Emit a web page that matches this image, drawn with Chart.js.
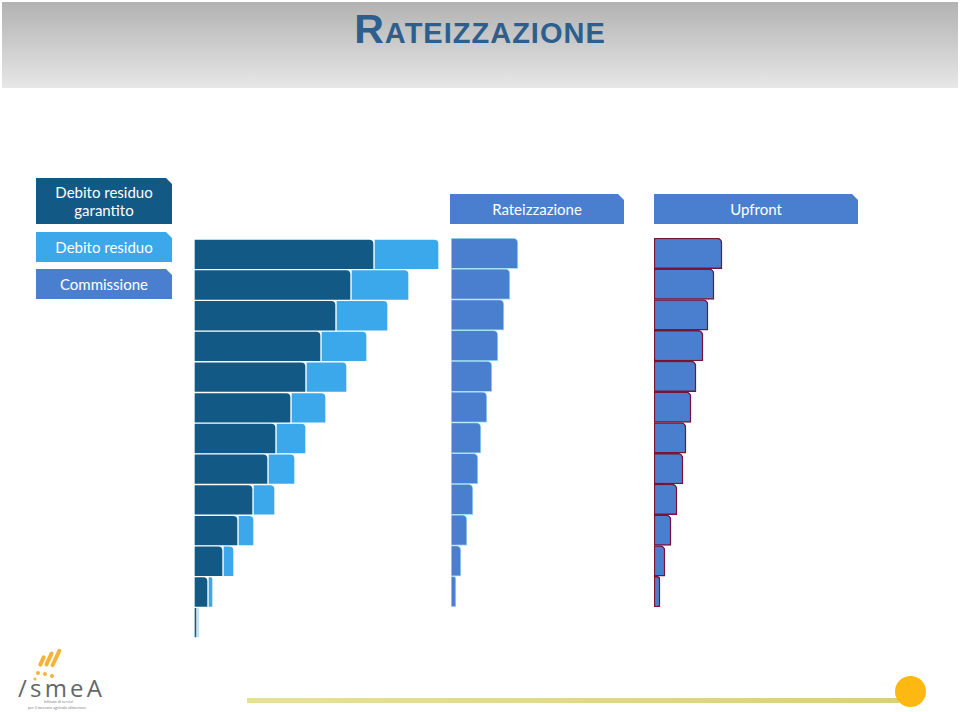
<!DOCTYPE html>
<html>
<head>
<meta charset="UTF-8">
<title>Rateizzazione</title>
<script src="https://cdn.jsdelivr.net/npm/chart.js"></script>
<style>
	body { margin:0; width:960px; height:712px; position:relative; background:#fff; overflow:hidden; font-family:Lato, "Open Sans", sans-serif; }
	#testata { position:absolute; left:2px; top:2px; width:956px; height:86px; background:linear-gradient(#b2b2b2, #e7e7e7); }
	#titolo { position:absolute; left:0; top:6px; width:960px; text-align:center; font-family:"Liberation Sans", Arial, sans-serif; font-weight:bold; font-size:41px; font-variant:small-caps; color:#2c5f8d; letter-spacing:1px; }
	.etichetta { position:absolute; color:#fff; text-align:center; font-size:15px; line-height:18px; display:flex; align-items:center; justify-content:center;
		clip-path:polygon(0 0, calc(100% - 6px) 0, 100% 6px, 100% 100%, 0 100%); }
	canvas { position:absolute; }
	#linea { position:absolute; left:247px; top:698px; width:652px; height:5px; background:linear-gradient(90deg, #e6e0a0, #d9d07a); }
	#pallino { position:absolute; left:895px; top:676px; width:31px; height:31px; border-radius:50%; background:#fdb812; }
	#logo { position:absolute; left:14px; top:645px; width:100px; height:66px; color:#666; }
</style>
</head>
<body>
<div id="testata"></div>
<div id="titolo">Rateizzazione</div>

<div class="etichetta" style="left:36px;top:178px;width:136px;height:46px;background:#135986;">Debito residuo<br>garantito</div>
<div class="etichetta" style="left:36px;top:232px;width:136px;height:30px;background:#3aa8ea;">Debito residuo</div>
<div class="etichetta" style="left:36px;top:269px;width:136px;height:30px;background:#4a7fcf;">Commissione</div>
<div class="etichetta" style="left:450px;top:194px;width:174px;height:30px;background:#4a7fcf;">Rateizzazione</div>
<div class="etichetta" style="left:654px;top:194px;width:204px;height:30px;background:#4a7fcf;">Upfront</div>

<canvas id="graficoDebito" width="260" height="399" style="left:194px;top:239px;"></canvas>
<canvas id="graficoRate" width="200" height="369" style="left:451px;top:238px;"></canvas>
<canvas id="graficoUpfront" width="200" height="369" style="left:654px;top:238px;"></canvas>

<div id="logo">
	<svg width="100" height="66">
		<g fill="#f4b43a">
			<rect x="26" y="10" width="4" height="12" rx="2" transform="rotate(25 28 16)"/>
			<rect x="33" y="6" width="4" height="16" rx="2" transform="rotate(25 35 14)"/>
			<rect x="40" y="3" width="4" height="20" rx="2" transform="rotate(25 42 13)"/>
			<circle cx="24" cy="28" r="2"/><circle cx="31" cy="29" r="2"/><circle cx="38" cy="31" r="2"/><circle cx="21" cy="34" r="1.5"/>
		</g>
		<text x="4" y="52" font-family="Open Sans, sans-serif" font-size="24" fill="#666" textLength="84">/smeA</text>
		<text x="30" y="58" font-size="4" fill="#888">Istituto di servizi</text>
		<text x="14" y="64" font-size="4" fill="#888">per il mercato agricolo alimentare</text>
	</svg>
</div>
<div id="linea"></div>
<div id="pallino"></div>

<script>
	// valori (unita' arbitrarie)
	var righeDebito = ['1','2','3','4','5','6','7','8','9','10','11','12','13'];
	var debitoGarantito = [180, 157, 142, 127, 112, 97, 82, 74, 59, 44, 29, 14, 3];
	var debitoResiduo = [245, 215, 194, 173, 153, 132, 112, 101, 81, 60, 40, 19, 5];

	var righeRate = ['1','2','3','4','5','6','7','8','9','10','11','12'];
	var rateizzazione = [67, 59, 53, 47, 41, 36, 30, 27, 22, 16, 10, 5];
	var upfront = [68, 60, 54, 49, 42, 37, 32, 29, 23, 17, 11, 6];

	var angolo = {topLeft:0, topRight:5, bottomLeft:0, bottomRight:0};

	function opzioni(massimo) {
		return {
			indexAxis: 'y',
			responsive: false,
			animation: false,
			plugins: { legend: {display:false}, tooltip: {enabled:false} },
			layout: { padding: 0 },
			scales: {
				x: { display:false, min:0, max:massimo },
				y: { display:false, grid:{display:false} }
			},
			datasets: { bar: { barPercentage:1, categoryPercentage:1, grouped:false, borderSkipped:false } }
		};
	}

	// parte chiara = intervallo tra debito garantito e debito residuo
	var residuoFloat = [];
	for (let i in debitoResiduo) {
		residuoFloat.push([debitoGarantito[i], debitoResiduo[i]]);
	}

	new Chart("graficoDebito", {
		type: "bar",
		data: {
			labels: righeDebito,
			datasets: [{
				data: debitoGarantito,
				backgroundColor: "#135986",
				borderColor: "#ffffff",
				borderWidth: 1,
				borderRadius: angolo
			}, {
				data: residuoFloat,
				backgroundColor: "#3aa8ea",
				borderColor: "#ffffff",
				borderWidth: 1,
				borderRadius: angolo
			}]
		},
		options: opzioni(260)
	});

	new Chart("graficoRate", {
		type: "bar",
		data: {
			labels: righeRate,
			datasets: [{
				data: rateizzazione,
				backgroundColor: "#4a7fcf",
				borderColor: "#a6e3f2",
				borderWidth: 1,
				borderRadius: angolo
			}]
		},
		options: opzioni(200)
	});

	new Chart("graficoUpfront", {
		type: "bar",
		data: {
			labels: righeRate,
			datasets: [{
				data: upfront,
				backgroundColor: "#4a7fcf",
				borderColor: "#7a1434",
				borderWidth: 1.5,
				borderRadius: angolo
			}]
		},
		options: opzioni(200)
	});
</script>
</body>
</html>
